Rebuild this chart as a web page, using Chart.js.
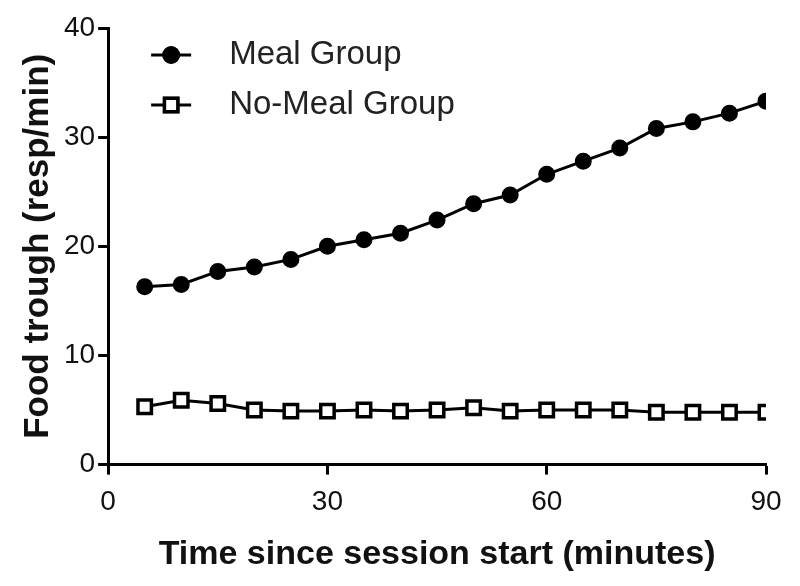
<!DOCTYPE html>
<html>
<head>
<meta charset="utf-8">
<script src="https://cdn.jsdelivr.net/npm/chart.js@4"></script>
<style>
  html, body { margin: 0; padding: 0; background: #fff; }
  #wrap { width: 800px; height: 586px; }
</style>
</head>
<body>
<div id="wrap"><canvas id="chart" width="800" height="586"></canvas></div>
<script>
// --- DATA ---
const minutes = [5, 10, 15, 20, 25, 30, 35, 40, 45, 50, 55, 60, 65, 70, 75, 80, 85, 90];
const mealGroup = [16.3, 16.5, 17.7, 18.1, 18.8, 20.0, 20.6, 21.2, 22.4, 23.9, 24.7, 26.6, 27.8, 29.0, 30.8, 31.4, 32.2, 33.3];
const noMealGroup = [5.3, 5.9, 5.6, 5.0, 4.9, 4.9, 5.0, 4.9, 5.0, 5.2, 4.9, 5.0, 5.0, 5.0, 4.8, 4.8, 4.8, 4.8];
const xTicks = [0, 30, 60, 90];
const yTicks = [0, 10, 20, 30, 40];

const FONT = '"Liberation Sans", Arial, sans-serif';
const toPoints = values => minutes.map((m, i) => ({ x: m, y: values[i] }));

// --- LEGEND INSIDE THE PLOT ---
const insideLegend = {
    id: 'insideLegend',
    afterDraw(chart) {
        const ctx = chart.ctx;
        const area = chart.chartArea;
        chart.data.datasets.forEach((ds, i) => {
            const y = area.top + 27 + i * 50;
            const x0 = area.left + 43;
            ctx.save();
            ctx.strokeStyle = '#000';
            ctx.lineWidth = 3;
            ctx.beginPath();
            ctx.moveTo(x0, y);
            ctx.lineTo(x0 + 40, y);
            ctx.stroke();
            Chart.helpers.drawPoint(ctx, {
                pointStyle: ds.pointStyle,
                radius: ds.pointRadius,
                borderWidth: ds.pointBorderWidth
            }, x0 + 20, y);
            ctx.fillStyle = ds.pointBackgroundColor;
            ctx.strokeStyle = '#000';
            ctx.lineWidth = ds.pointBorderWidth;
            ctx.fill();
            ctx.stroke();
            ctx.fillStyle = '#222';
            ctx.font = '33px ' + FONT;
            ctx.textBaseline = 'middle';
            ctx.fillText(ds.label, area.left + 121, y);
            ctx.restore();
        });
    }
};

new Chart(document.getElementById('chart'), {
    type: 'line',
    data: {
        datasets: [
            {
                label: 'Meal Group', data: toPoints(mealGroup),
                borderColor: '#000', borderWidth: 3,
                pointStyle: 'circle', pointRadius: 7.5,
                pointBackgroundColor: '#000', pointBorderColor: '#000', pointBorderWidth: 2,
                tension: 0
            },
            {
                label: 'No-Meal Group', data: toPoints(noMealGroup),
                borderColor: '#000', borderWidth: 3,
                pointStyle: 'rect', pointRadius: 9.5,
                pointBackgroundColor: '#fff', pointBorderColor: '#000', pointBorderWidth: 3.5,
                tension: 0
            }
        ]
    },
    options: {
        responsive: false, animation: false,
        layout: { padding: { top: 28, right: 34, bottom: 11, left: 17 } },
        plugins: { legend: { display: false }, tooltip: { enabled: false } },
        scales: {
            x: {
                type: 'linear', min: 0, max: 90,
                afterBuildTicks: axis => { axis.ticks = xTicks.map(v => ({ value: v })); },
                border: { display: true, color: '#000', width: 3 },
                grid: { drawOnChartArea: false, drawTicks: true, tickLength: 10, tickWidth: 3, tickColor: '#000' },
                ticks: { color: '#111', padding: 11, maxRotation: 0, font: { size: 28, family: FONT } },
                title: { display: true, text: 'Time since session start (minutes)', color: '#111', padding: { top: 4, bottom: 0 },
                         font: { size: 34, weight: 'bold', family: FONT } }
            },
            y: {
                min: 0, max: 40,
                afterBuildTicks: axis => { axis.ticks = yTicks.map(v => ({ value: v })); },
                border: { display: true, color: '#000', width: 3 },
                grid: { drawOnChartArea: false, drawTicks: true, tickLength: 10, tickWidth: 3, tickColor: '#000' },
                ticks: { color: '#111', padding: 3, font: { size: 28, family: FONT } },
                title: { display: true, text: 'Food trough (resp/min)', color: '#111', padding: { top: 0, bottom: 2 },
                         font: { size: 35, weight: 'bold', family: FONT } }
            }
        }
    },
    plugins: [insideLegend]
});
</script>
</body>
</html>
